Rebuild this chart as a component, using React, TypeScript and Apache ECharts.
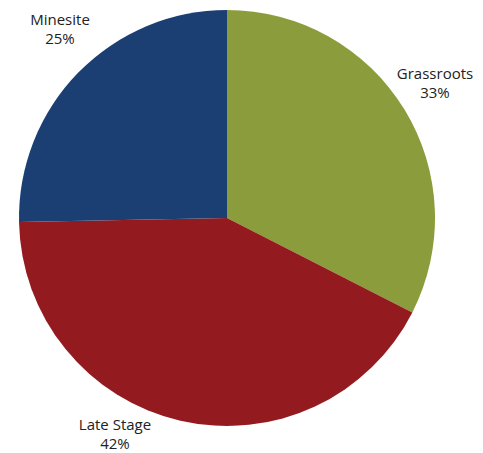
import React, { useEffect, useRef } from "react";
import * as echarts from "echarts";

const categories = ["Grassroots", "Late Stage", "Minesite"];
const values = [32.5, 42.2, 25.3];
const colors = ["#8A9C3B", "#931B1F", "#1B3F73"];

// label anchor positions (layout only)
const labelPos: { x: number; y: number }[] = [
  { x: 435, y: 82 },
  { x: 115, y: 433 },
  { x: 60, y: 28 },
];

export default function App() {
  const ref = useRef<HTMLDivElement>(null);
  useEffect(() => {
    document.body.style.margin = "0";
    const chart = echarts.init(ref.current!, null, { renderer: "svg" });
    chart.setOption({
      animation: false,
      series: [
        {
          type: "pie",
          center: [227, 218],
          radius: 208,
          startAngle: 90,
          clockwise: true,
          percentPrecision: 0,
          avoidLabelOverlap: false,
          data: categories.map((c, i) => ({
            name: c,
            value: values[i],
            itemStyle: { color: colors[i] },
          })),
          label: {
            show: true,
            position: "outside",
            formatter: "{b}\n{d}%",
            fontFamily: "Open Sans, Noto Sans, sans-serif",
            fontSize: 15,
            lineHeight: 19,
            color: "#222",
            align: "center",
          },
          labelLine: { show: false },
          labelLayout: (params: any) => {
            const p = labelPos[params.dataIndex];
            return { x: p.x, y: p.y, align: "center", verticalAlign: "middle" };
          },
          emphasis: { disabled: true },
        },
      ],
    });
    return () => chart.dispose();
  }, []);
  return <div ref={ref} style={{ width: 483, height: 453 }} />;
}
